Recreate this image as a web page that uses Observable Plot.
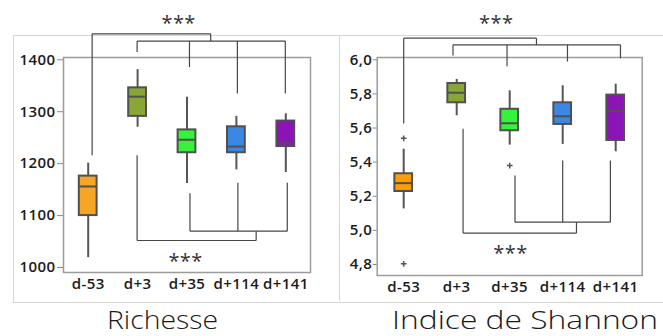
<!DOCTYPE html>
<html><head><meta charset="utf-8">
<script src="https://cdn.jsdelivr.net/npm/d3@7"></script>
<script src="https://cdn.jsdelivr.net/npm/@observablehq/plot@0.6"></script>
<style>
body{margin:0;background:#fff;}
#root{position:relative;width:663px;height:336px;overflow:hidden;background:#fff;}
.pane{position:absolute;top:0;}
#border{position:absolute;left:13px;top:35px;width:700px;height:266px;border-left:1px solid #d6d6d6;border-top:1px solid #d6d6d6;border-bottom:1px solid #d6d6d6;}
#divider{position:absolute;left:339px;top:35px;width:0;height:266px;border-left:1px solid #d6d6d6;}
#caps{position:absolute;left:0;top:0;}
</style></head><body><div id="root"><div id="border"></div><div id="divider"></div></div>
<script>
const categories = ["d-53", "d+3", "d+35", "d+114", "d+141"];

// Richesse
const richLo  = [1019, 1270, 1162, 1188, 1183];
const richQ1  = [1100, 1291, 1221, 1221, 1233];
const richMed = [1156, 1329, 1246, 1233, 1239];
const richQ3  = [1176, 1346, 1265, 1271, 1282];
const richHi  = [1201, 1381, 1328, 1291, 1296];
const richTicks = [1000, 1100, 1200, 1300, 1400];
const richColors = ["#f6a524", "#8aa637", "#36f23a", "#3a87e4", "#8b14b6"];

// Indice de Shannon
const shanLo  = [5.126, 5.672, 5.500, 5.504, 5.461];
const shanQ1  = [5.228, 5.748, 5.584, 5.621, 5.527];
const shanMed = [5.277, 5.807, 5.628, 5.669, 5.700];
const shanQ3  = [5.332, 5.861, 5.710, 5.748, 5.793];
const shanHi  = [5.476, 5.885, 5.818, 5.848, 5.857];
const shanOutlierCat = [0, 0, 2];
const shanOutlierVal = [5.540, 4.804, 5.380];
const shanTicks = [4.8, 5.0, 5.2, 5.4, 5.6, 5.8, 6.0];
const shanColors = ["#fb9e08", "#8aa637", "#36f23a", "#3a87e4", "#8b14b6"];

// significance brackets: [catIndex1, value1, catIndex2, value2]
const richBrackets = [
  [0.08, 1216, 0.08, 1450], [0.08, 1450, 2.48, 1450], [2.48, 1450, 2.48, 1436],
  [0.99, 1436, 3.99, 1436], [0.99, 1436, 0.99, 1415], [2.05, 1436, 2.05, 1386],
  [3.02, 1436, 3.02, 1335], [3.99, 1436, 3.99, 1335],
  [0.99, 1216, 0.99, 1052], [0.99, 1052, 3.40, 1052], [3.40, 1052, 3.40, 1070],
  [2.06, 1143, 2.06, 1070], [2.06, 1070, 4.03, 1070], [3.03, 1163, 3.03, 1070],
  [4.03, 1163, 4.03, 1070]
];
const richStarCat = [1.83, 1.97];
const richStarVal = [1469, 1012];

const shanBrackets = [
  [0.0, 5.627, 0.0, 6.127], [0.0, 6.127, 2.505, 6.127], [2.505, 6.127, 2.505, 6.088],
  [0.93, 6.088, 4.09, 6.088], [0.93, 6.088, 0.93, 6.025], [1.95, 6.088, 1.95, 5.962],
  [3.09, 6.088, 3.09, 5.990], [4.09, 6.088, 4.09, 6.009],
  [1.12, 5.596, 1.12, 4.984], [1.12, 4.984, 3.26, 4.984], [3.26, 4.984, 3.26, 5.048],
  [2.10, 5.322, 2.10, 5.048], [2.10, 5.048, 3.90, 5.048], [3.00, 5.410, 3.00, 5.048],
  [3.90, 5.410, 3.90, 5.048]
];
const shanStarCat = [1.745, 2.015];
const shanStarVal = [6.214, 4.866];

function panel(o) {
  const idx = categories.map((c, i) => i);
  const rows = idx.map(i => ({i, c: categories[i], lo: o.lo[i], q1: o.q1[i], med: o.med[i], q3: o.q3[i], hi: o.hi[i]}));
  const outs = (o.outCat || []).map((c, k) => ({i: c, v: o.outVal[k]}));
  const links = o.brackets.map(b => ({x1: b[0], y1: b[1], x2: b[2], y2: b[3]}));
  const stars = o.starCat.map((c, k) => ({x: c, y: o.starVal[k]}));
  const hw = o.hw;
  return Plot.plot({
    width: o.width, height: 300,
    marginLeft: o.ml, marginRight: o.mr, marginTop: o.mt, marginBottom: o.mb,
    style: {background: "transparent", fontFamily: "'Open Sans', sans-serif", fontSize: "15px", fontWeight: 600, letterSpacing: "0.4px", color: "#1b1b1b", overflow: "visible"},
    x: {type: "linear", domain: [-0.5, 4.5], label: null},
    y: {domain: o.yDomain, label: null},
    color: {type: "ordinal", domain: categories, range: o.colors},
    marks: [
      Plot.frame({stroke: "#9c9c9c", strokeWidth: 1.5}),
      Plot.axisY({ticks: o.ticks, tickFormat: o.fmt, tickSize: o.tickSize, tickPadding: o.tickPadding, stroke: "#8a8a8a", fill: "#1b1b1b", label: null}),
      Plot.axisX({ticks: idx, tickFormat: i => categories[i], tickSize: 0, tickPadding: 6, fill: "#1b1b1b", label: null}),
      Plot.link(links, {x1: "x1", y1: "y1", x2: "x2", y2: "y2", stroke: "#474747", strokeWidth: 1.2}),
      Plot.ruleX(rows, {x: "i", y1: "lo", y2: "hi", stroke: "#555", strokeWidth: 2}),
      Plot.rect(rows, {x1: d => d.i - hw, x2: d => d.i + hw, y1: "q1", y2: "q3", fill: "c", stroke: "#505050", strokeWidth: 2}),
      Plot.ruleY(rows, {y: "med", x1: d => d.i - hw, x2: d => d.i + hw, stroke: "#505050", strokeWidth: 2}),
      Plot.dot(outs, {x: "i", y: "v", symbol: "plus", r: 2, fill: "none", stroke: "#555", strokeWidth: 1.5}),
      Plot.text(stars, {x: "x", y: "y", text: () => "***", fontSize: 20, fontWeight: 400, letterSpacing: "0.5px", fill: "#333"})
    ]
  });
}

const root = document.getElementById("root");

const left = panel({
  lo: richLo, q1: richQ1, med: richMed, q3: richQ3, hi: richHi,
  yDomain: [990.4, 1404.4], ticks: richTicks, fmt: d => String(d),
  width: 335, ml: 63, mr: 25, mt: 57, mb: 28, hw: 0.18,
  tickSize: 6, tickPadding: 2, colors: richColors,
  brackets: richBrackets, starCat: richStarCat, starVal: richStarVal
});
left.classList.add("pane");
left.style.left = "0px";
root.appendChild(left);

const right = panel({
  lo: shanLo, q1: shanQ1, med: shanMed, q3: shanQ3, hi: shanHi,
  outCat: shanOutlierCat, outVal: shanOutlierVal,
  yDomain: [4.7355, 6.0135], ticks: shanTicks, fmt: d => d.toFixed(1).replace(".", ","),
  width: 328, ml: 41.7, mr: 21.3, mt: 57, mb: 25, hw: 0.167,
  tickSize: 4, tickPadding: 1, colors: shanColors,
  brackets: shanBrackets, starCat: shanStarCat, starVal: shanStarVal
});
right.classList.add("pane");
right.style.left = "335px";
root.appendChild(right);

// captions
const ns = "http://www.w3.org/2000/svg";
const caps = document.createElementNS(ns, "svg");
caps.setAttribute("id", "caps");
caps.setAttribute("width", 663);
caps.setAttribute("height", 336);
const captions = [["Richesse", 162.5, 111], ["Indice de Shannon", 525, 266]];
for (const [t, x, w] of captions) {
  const el = document.createElementNS(ns, "text");
  el.setAttribute("x", x);
  el.setAttribute("y", 328.6);
  el.setAttribute("text-anchor", "middle");
  el.setAttribute("font-family", "'Open Sans', sans-serif");
  el.setAttribute("font-weight", "300");
  el.setAttribute("font-size", "25");
  el.setAttribute("textLength", w);
  el.setAttribute("lengthAdjust", "spacingAndGlyphs");
  el.setAttribute("fill", "#1a1a1a");
  el.textContent = t;
  caps.appendChild(el);
}
root.appendChild(caps);
</script>
</body></html>
